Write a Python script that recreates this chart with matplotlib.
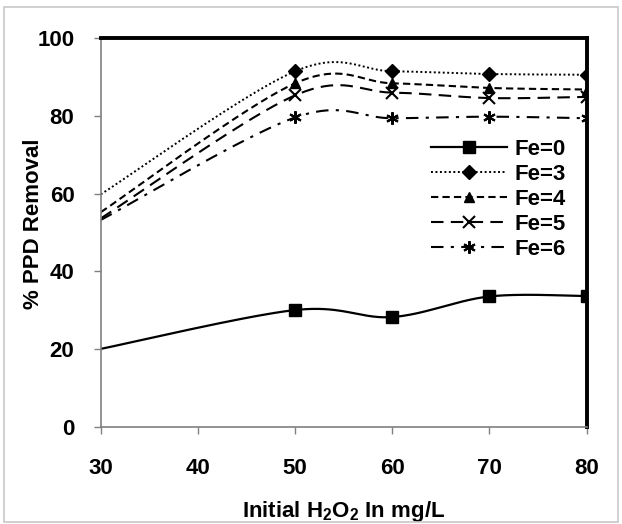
import numpy as np
import matplotlib
matplotlib.use("Agg")
import matplotlib.pyplot as plt
from matplotlib.patches import Rectangle

plt.rcParams['font.family'] = ['Liberation Sans', 'DejaVu Sans']
plt.rcParams['font.weight'] = 'bold'
plt.rcParams['mathtext.fontset'] = 'custom'
plt.rcParams['mathtext.bf'] = 'Liberation Sans:bold'
plt.rcParams['mathtext.rm'] = 'Liberation Sans:bold'
plt.rcParams['mathtext.default'] = 'bf'

# data
h2o2 = [30, 50, 60, 70, 80]
fe0 = [20.0, 30.0, 28.2, 33.5, 33.6]
fe3 = [59.8, 91.5, 91.5, 90.8, 90.6]
fe4 = [55.2, 88.4, 88.4, 87.2, 86.8]
fe5 = [53.6, 85.3, 86.0, 84.6, 84.9]
fe6 = [53.2, 79.6, 79.4, 79.8, 79.4]
labels = ['Fe=0', 'Fe=3', 'Fe=4', 'Fe=5', 'Fe=6']


def smooth(x, y, sx=9.7, sy=3.88, n=40):
    # excel-like smoothed line (catmull-rom bezier in screen space)
    p = np.column_stack([np.array(x, float) * sx, np.array(y, float) * sy])
    pts = np.vstack([p[0], p, p[-1]])
    out = []
    for i in range(1, len(pts) - 2):
        p0, p1, p2, p3 = pts[i - 1], pts[i], pts[i + 1], pts[i + 2]
        c1 = p1 + (p2 - p0) / 6
        c2 = p2 - (p3 - p1) / 6
        t = np.linspace(0, 1, n)[:, None]
        b = (1 - t) ** 3 * p1 + 3 * (1 - t) ** 2 * t * c1 + 3 * (1 - t) * t ** 2 * c2 + t ** 3 * p2
        out.append(b if i == 1 else b[1:])
    out = np.vstack(out)
    return out[:, 0] / sx, out[:, 1] / sy


fig = plt.figure(figsize=(6.22, 5.24), dpi=100)
ax = fig.add_axes([0.162, 0.186, 0.781, 0.741])

styles = [
    dict(ls='-', marker='s', ms=8, lw=1.6),
    dict(ls=(0, (1, 1.3)), marker='D', ms=7, lw=1.4),
    dict(ls=(0, (3.5, 2)), marker='^', ms=7.5, lw=1.5),
    dict(ls=(0, (6, 3.5)), marker='x', ms=8, lw=1.5, mew=1.5),
    dict(ls=(0, (6, 3.5, 1.5, 3.5)), marker=(6, 2, 0), ms=9, lw=1.5, mew=1.5),
]

for ys, lab, st in zip([fe0, fe3, fe4, fe5, fe6], labels, styles):
    sxs, sys_ = smooth(h2o2, ys)
    ax.plot(sxs, sys_, color='black', ls=st['ls'], lw=st['lw'])
    ax.plot(h2o2[1:], ys[1:], ls='none', color='black', marker=st['marker'],
            ms=st['ms'], mew=st.get('mew', 1))
    ax.plot([], [], color='black', ls=st['ls'], lw=st['lw'], marker=st['marker'],
            ms=st['ms'], mew=st.get('mew', 1), label=lab)

ax.set_xlim(30, 80)
ax.set_ylim(0, 100)
ax.set_xticks([30, 40, 50, 60, 70, 80])
ax.set_yticks([0, 20, 40, 60, 80, 100])
ax.tick_params(direction='out', length=5, width=1, color='#808080',
               labelsize=16)
ax.tick_params(axis='x', pad=18)
ax.tick_params(axis='y', pad=14)
for lbl in ax.get_xticklabels() + ax.get_yticklabels():
    lbl.set_fontweight('bold')

for s in ['top', 'right']:
    ax.spines[s].set_linewidth(2.8)
    ax.spines[s].set_color('black')
for s in ['left', 'bottom']:
    ax.spines[s].set_linewidth(1.2)
    ax.spines[s].set_color('#7f7f7f')

ax.set_xlabel('Initial H$_2$O$_2$ In mg/L', fontsize=16, fontweight='bold')
ax.set_ylabel('% PPD Removal', fontsize=16, fontweight='bold')
ax.xaxis.set_label_coords(0.5, -0.186)
ax.yaxis.set_label_coords(-0.117, 0.522)

ax.legend(loc='upper right', bbox_to_anchor=(0.958, 0.74), frameon=False,
          prop={'size': 16, 'weight': 'bold'}, handlelength=3.4,
          handletextpad=0.36, labelspacing=0.18, borderaxespad=0.0,
          borderpad=0.0)

fig.patches.append(Rectangle((0.007, 0.004), 0.986, 0.983, transform=fig.transFigure,
                             fill=False, edgecolor='#c8c8c8', lw=1.2))

fig.savefig('out.png', dpi=100)
